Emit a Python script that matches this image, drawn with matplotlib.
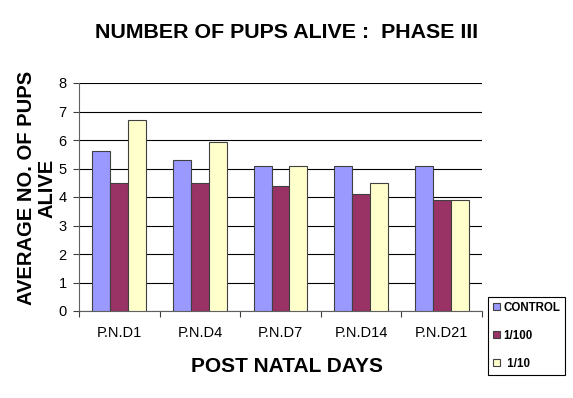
import matplotlib
matplotlib.use("Agg")
import matplotlib.pyplot as plt
import numpy as np

categories = ["P.N.D1", "P.N.D4", "P.N.D7", "P.N.D14", "P.N.D21"]
series_names = ["CONTROL", "1/100", " 1/10"]
control = [5.6, 5.3, 5.1, 5.1, 5.1]
dil_100 = [4.5, 4.5, 4.4, 4.1, 3.9]
dil_10 = [6.7, 5.92, 5.1, 4.5, 3.9]
colors = ["#9999FF", "#993366", "#FFFFCC"]

plt.rcParams['font.family'] = ['Liberation Sans', 'DejaVu Sans']

fig = plt.figure(figsize=(5.73, 3.98), dpi=100)
ax = fig.add_axes([79/573, 1 - 311/398, (482-79)/573, (311-83)/398])

x = np.arange(len(categories)) + 0.5
w = 1 / 4.5
for i, (vals, name) in enumerate(zip([control, dil_100, dil_10], series_names)):
    ax.bar(x + (i - 1) * w, vals, width=w, color=colors[i], edgecolor="#404040",
           linewidth=0.8, label=name, zorder=3)

ax.set_xlim(0, 5)
ax.set_ylim(0, 8)
ax.set_yticks(range(0, 9))
ax.yaxis.grid(True, color="black", linewidth=0.8, zorder=0)
ax.set_xticks(range(0, 6))
ax.set_xticklabels([])
ax.set_xticks(x, minor=True)
ax.set_xticklabels(categories, minor=True, fontsize=10.5)
ax.tick_params(axis="x", which="minor", length=0, pad=11)
ax.tick_params(axis="x", which="major", length=4, direction="out", color="#404040")
ax.tick_params(axis="y", length=4, direction="out", labelsize=10.5, color="#404040", pad=5)
for s in ["top", "right"]:
    ax.spines[s].set_visible(False)
ax.spines["left"].set_color("#606060")
ax.spines["bottom"].set_color("#606060")

ax.set_xlabel("POST NATAL DAYS", fontsize=15, fontweight="bold")
ax.xaxis.label.set_va("center")
ax.xaxis.set_label_coords((287 - 79) / 403, (311 - 367) / 228)
ax.set_ylabel("AVERAGE NO. OF PUPS\nALIVE", fontsize=14.5, fontweight="bold",
              linespacing=1.1)
ax.yaxis.label.set_va("center")
ax.yaxis.set_label_coords((37 - 79) / 403, (311 - 188) / 228)
fig.text(0.5, 1 - 32/398, "NUMBER OF PUPS ALIVE :  PHASE III", ha="center", va="center",
         fontsize=15.4, fontweight="bold")

leg = fig.legend(loc="upper left", bbox_to_anchor=(488/573, 1 - 297/398),
                 fancybox=False, edgecolor="black", framealpha=1,
                 prop={"weight": "bold", "size": 8.3}, handlelength=0.6, handleheight=0.6,
                 labelspacing=1.4, borderpad=0.4, handletextpad=0.35, borderaxespad=0)
leg.get_frame().set_linewidth(0.8)

fig.savefig("out.png", dpi=100)
